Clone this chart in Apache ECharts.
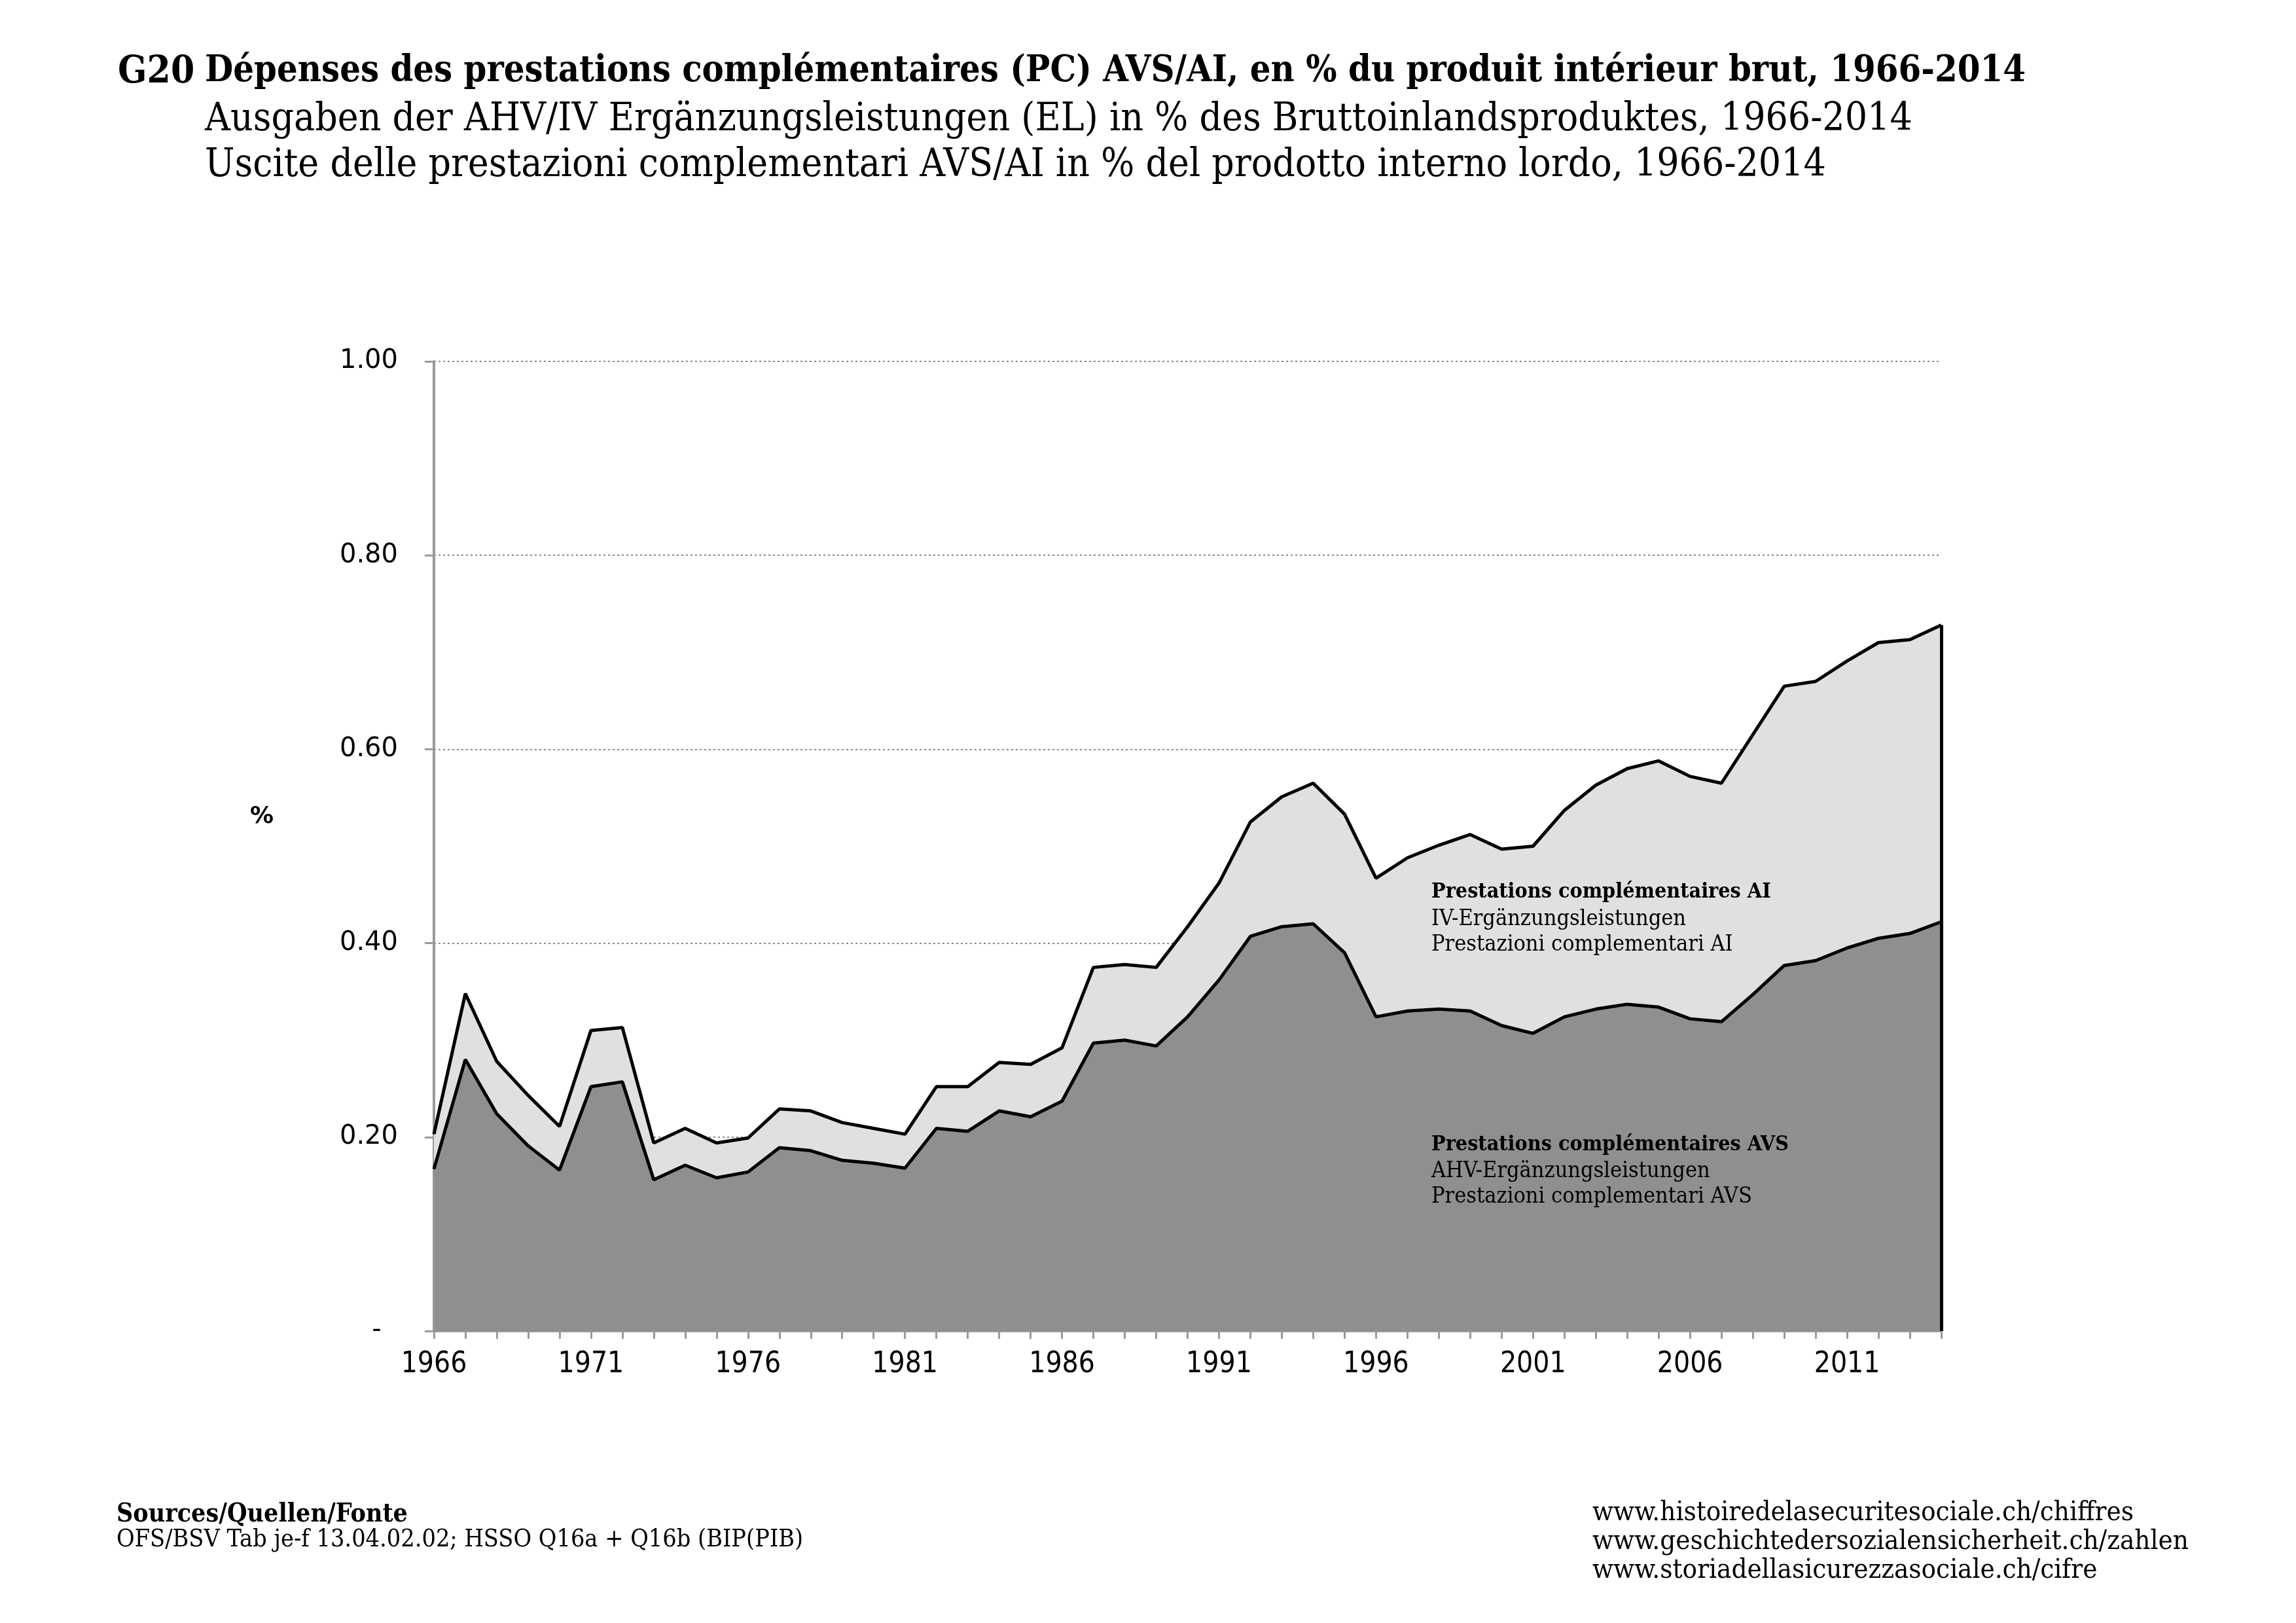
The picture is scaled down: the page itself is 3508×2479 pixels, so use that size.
<!DOCTYPE html>
<html>
<head>
<meta charset="utf-8">
<script src="https://cdn.jsdelivr.net/npm/echarts@6/dist/echarts.min.js"></script>
<style>
  html, body { margin: 0; padding: 0; background: #fff; }
  #chart { width: 3508px; height: 2479px; }
</style>
</head>
<body>
<div id="chart"></div>
<script>
// années
var years = ['1966','1967','1968','1969','1970','1971','1972','1973','1974','1975',
  '1976','1977','1978','1979','1980','1981','1982','1983','1984','1985',
  '1986','1987','1988','1989','1990','1991','1992','1993','1994','1995',
  '1996','1997','1998','1999','2000','2001','2002','2003','2004','2005',
  '2006','2007','2008','2009','2010','2011','2012','2013','2014'];

// PC AVS, en % du PIB
var avs = [0.167,0.280,0.224,0.191,0.166,0.252,0.257,0.156,0.171,0.158,
  0.164,0.189,0.186,0.176,0.173,0.168,0.209,0.206,0.227,0.221,
  0.237,0.297,0.300,0.294,0.324,0.362,0.407,0.417,0.420,0.390,
  0.324,0.330,0.332,0.330,0.315,0.307,0.324,0.332,0.337,0.334,
  0.322,0.319,0.347,0.377,0.382,0.395,0.405,0.410,0.422];

// PC AVS + AI (total), en % du PIB
var total = [0.203,0.348,0.278,0.243,0.211,0.310,0.313,0.194,0.209,0.194,
  0.199,0.229,0.227,0.215,0.209,0.203,0.252,0.252,0.277,0.275,
  0.292,0.375,0.378,0.375,0.417,0.462,0.525,0.551,0.565,0.533,
  0.467,0.488,0.501,0.512,0.497,0.500,0.537,0.563,0.580,0.588,
  0.572,0.565,0.615,0.665,0.670,0.691,0.710,0.713,0.728];

var yTicks = [0, 0.2, 0.4, 0.6, 0.8, 1.0];

var titleLines = [
  'Dépenses des prestations complémentaires (PC) AVS/AI, en % du produit intérieur brut, 1966-2014',
  'Ausgaben der AHV/IV Ergänzungsleistungen (EL) in % des Bruttoinlandsproduktes, 1966-2014',
  'Uscite delle prestazioni complementari AVS/AI in % del prodotto interno lordo, 1966-2014'
];
var aiNote = ['Prestations complémentaires AI', 'IV-Ergänzungsleistungen', 'Prestazioni complementari AI'];
var avsNote = ['Prestations complémentaires AVS', 'AHV-Ergänzungsleistungen', 'Prestazioni complementari AVS'];
var sources = ['Sources/Quellen/Fonte', 'OFS/BSV Tab je-f 13.04.02.02; HSSO Q16a + Q16b (BIP(PIB)'];
var links = ['www.histoiredelasecuritesociale.ch/chiffres',
  'www.geschichtedersozialensicherheit.ch/zahlen',
  'www.storiadellasicurezzasociale.ch/cifre'];

var SERIF = '"DejaVu Serif Condensed", "DejaVu Serif", serif';
var last = years.length - 1;

function txt(x, y, s, size, bold) {
  return {
    type: 'text', left: x, top: y, z: 100,
    style: { text: s, font: (bold ? 'bold ' : '') + size + 'px ' + SERIF, fill: '#000', textVerticalAlign: 'middle' }
  };
}

var chart = echarts.init(document.getElementById('chart'));

var graphics = [
  txt(180, 82, 'G20', 58, true),
  txt(313, 82, titleLines[0], 55.5, true),
  txt(313, 153, titleLines[1], 60, false),
  txt(313, 223, titleLines[2], 60, false),
  txt(2187, 1347, aiNote[0], 32, true),
  txt(2187, 1387, aiNote[1], 34, false),
  txt(2187, 1426, aiNote[2], 34, false),
  txt(2187, 1733, avsNote[0], 32, true),
  txt(2187, 1772, avsNote[1], 34, false),
  txt(2187, 1811, avsNote[2], 34, false),
  txt(178, 2294, sources[0], 39, true),
  txt(178, 2333, sources[1], 37.5, false),
  txt(2433, 2290, links[0], 41.7, false),
  txt(2433, 2334, links[1], 41.7, false),
  txt(2433, 2378, links[2], 41.7, false),
  { type: 'text', left: 382, top: 1230, z: 100,
    style: { text: '%', font: 'bold 36px "DejaVu Sans"', fill: '#000' } }
];

chart.setOption({
  animation: false,
  backgroundColor: '#fff',
  grid: { left: 663, right: 542, top: 552, bottom: 446 },
  xAxis: {
    type: 'category',
    data: years,
    boundaryGap: false,
    axisLine: { lineStyle: { color: '#9a9a9a', width: 4 } },
    axisTick: { show: true, interval: 0, length: 12, lineStyle: { color: '#9a9a9a', width: 3 } },
    axisLabel: {
      interval: 4, margin: 30, fontSize: 44, color: '#000',
      fontFamily: '"DejaVu Sans Condensed", "DejaVu Sans", sans-serif'
    },
    splitLine: { show: false }
  },
  yAxis: {
    type: 'value',
    min: yTicks[0], max: yTicks[yTicks.length - 1], interval: 0.2,
    axisLine: { show: true, lineStyle: { color: '#9a9a9a', width: 4 } },
    axisTick: { show: true, length: 14, lineStyle: { color: '#9a9a9a', width: 3 } },
    axisLabel: {
      margin: 55, fontSize: 40, color: '#000', fontFamily: 'DejaVu Sans',
      formatter: function (v) { return v === 0 ? '-  ' : v.toFixed(2); }
    },
    splitLine: { show: true, lineStyle: { color: '#8a8a8a', width: 2, type: [3, 4] } }
  },
  series: [
    {
      name: 'AI',
      type: 'line',
      data: total,
      symbol: 'none',
      lineStyle: { color: '#000', width: 5 },
      areaStyle: { color: '#e0e0e0', opacity: 1 },
      z: 2
    },
    {
      name: 'AVS',
      type: 'line',
      data: avs,
      symbol: 'none',
      lineStyle: { color: '#000', width: 5 },
      areaStyle: { color: '#8f8f8f', opacity: 1 },
      z: 3,
      markLine: {
        silent: true,
        symbol: 'none',
        label: { show: false },
        lineStyle: { color: '#000', width: 5, type: 'solid' },
        data: [[{ coord: [years[last], 0] }, { coord: [years[last], total[last]] }]]
      }
    }
  ],
  graphic: graphics
});
</script>
</body>
</html>
